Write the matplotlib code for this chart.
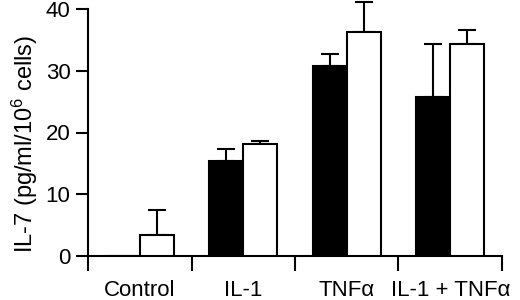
import matplotlib.pyplot as plt
import numpy as np

plt.rcParams['font.family'] = ['Liberation Sans', 'DejaVu Sans']
plt.rcParams['mathtext.default'] = 'regular'

# IL-7 levels, black and white bars per treatment
groups = ['Control', 'IL-1', 'TNF\u03b1', 'IL-1 + TNF\u03b1']
black_vals = [0.0, 15.4, 30.7, 25.8]
black_err = [0.0, 2.0, 2.0, 8.5]
white_vals = [3.4, 18.2, 36.3, 34.3]
white_err = [4.0, 0.5, 4.8, 2.3]

fig = plt.figure(figsize=(5.2, 3.0), dpi=100)
ax = fig.add_axes([88/520, 1-256/300, 414/520, 247/300])

x = np.arange(len(groups)) + 0.5
w = 0.33
lw = 1.5

ax.bar(x - w/2, black_vals, w, color='black', edgecolor='black', linewidth=lw, zorder=3)
ax.bar(x + w/2, white_vals, w, color='white', edgecolor='black', linewidth=lw, zorder=3)

# one-sided (upper) error bars
for xs, vals, errs in [(x - w/2, black_vals, black_err), (x + w/2, white_vals, white_err)]:
    for xi, v, e in zip(xs, vals, errs):
        if e > 0:
            ax.errorbar(xi, v, yerr=[[0], [e]], fmt='none', ecolor='black',
                        elinewidth=lw, capsize=6.5, capthick=lw, zorder=2, clip_on=False)

ax.set_xlim(0, 4)
ax.set_ylim(0, 40)
ax.set_yticks([0, 10, 20, 30, 40])
ax.set_xticks([0, 1, 2, 3, 4])
ax.set_xticklabels([])
ax.set_xticks(x, minor=True)
ax.set_xticklabels(groups, minor=True)
ax.tick_params(axis='x', which='major', direction='out', length=11, width=lw)
ax.tick_params(axis='x', which='minor', length=0, pad=17, labelsize=16)
ax.tick_params(axis='y', direction='out', length=8.6, width=lw, pad=4, labelsize=16)

for s in ['top', 'right']:
    ax.spines[s].set_visible(False)
for s in ['left', 'bottom']:
    ax.spines[s].set_linewidth(lw)

ax.set_ylabel('IL-7 (pg/ml/10$^{6}$ cells)', fontsize=17)
ax.yaxis.set_label_coords(-0.117, 0.455)

fig.savefig('out.png', dpi=100)
